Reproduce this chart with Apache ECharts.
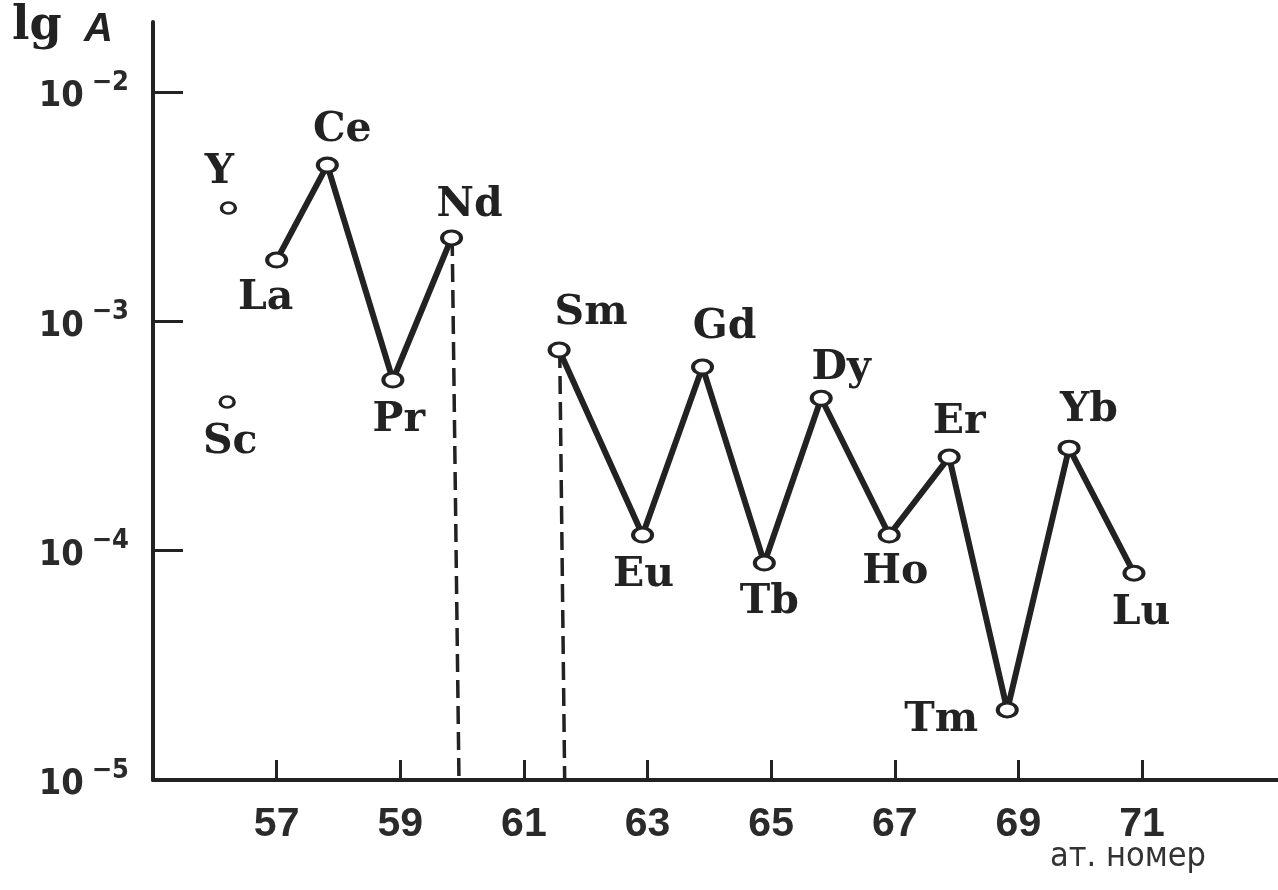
<!DOCTYPE html>
<html>
<head>
<meta charset="utf-8">
<script src="https://cdn.jsdelivr.net/npm/echarts@6/dist/echarts.min.js"></script>
<style>
html,body{margin:0;padding:0;background:#fff;}
#chart{width:1278px;height:890px;}
</style>
</head>
<body>
<div id="chart"></div>
<script>
// ---- data ----
var groupA_names = ['La', 'Ce', 'Pr', 'Nd'];
var groupA_x = [57.0, 57.82, 58.88, 59.83];
var groupA_y = [1.85e-3, 4.8e-3, 5.55e-4, 2.31e-3];

var groupB_names = ['Sm', 'Eu', 'Gd', 'Tb', 'Dy', 'Ho', 'Er', 'Tm', 'Yb', 'Lu'];
var groupB_x = [61.57, 62.92, 63.89, 64.89, 65.81, 66.91, 67.88, 68.82, 69.82, 70.87];
var groupB_y = [7.5e-4, 1.17e-4, 6.32e-4, 8.83e-5, 4.62e-4, 1.17e-4, 2.56e-4, 2.02e-5, 2.8e-4, 7.98e-5];

var single_names = ['Y', 'Sc'];
var single_x = [56.22, 56.2];
var single_y = [3.12e-3, 4.45e-4];

var dropNd = [[59.84, 2.31e-3], [59.95, 1e-5]];
var dropSm = [[61.58, 7.5e-4], [61.66, 1e-5]];

var xTicks = [57, 59, 61, 63, 65, 67, 69, 71];
var yAxisTitle = 'lg';
var yAxisTitleItalic = 'A';
var xAxisTitle = 'ат. номер';

// ---- label placement (style only) ----
var labelOffset = {
  Y: [-9, -36], Sc: [3, 40], La: [-11, 38], Ce: [15, -35], Pr: [6, 40], Nd: [18, -33],
  Sm: [32, -37], Gd: [22, -40], Eu: [1, 40], Tb: [5, 39], Dy: [20, -30], Ho: [6, 37],
  Er: [10, -35], Tm: [-66, 10], Yb: [20, -38], Lu: [7, 40]
};

var ink = '#222';
var labelFont = {fontFamily: "'DejaVu Serif', serif", fontWeight: 'bold', fontSize: 41, color: ink, opacity: 1};

function build(names, xs, ys) {
  return names.map(function (n, i) {
    return {
      name: n,
      value: [xs[i], ys[i]],
      label: Object.assign({show: true, position: 'inside', formatter: n, offset: labelOffset[n]}, labelFont)
    };
  });
}

var tickFont = "'Liberation Sans Narrow', 'DejaVu Sans Condensed', 'Liberation Sans', sans-serif";
var chart = echarts.init(document.getElementById('chart'));
chart.setOption({
  backgroundColor: '#fff',
  animation: false,
  grid: {left: 153, right: 0, top: 22, bottom: 110, containLabel: false},
  xAxis: {
    type: 'value', min: 55, max: 73.2,
    axisLine: {show: true, onZero: false, lineStyle: {color: ink, width: 4}},
    axisTick: {show: true, inside: true, length: 20, customValues: xTicks, lineStyle: {color: ink, width: 3}},
    axisLabel: {show: true, customValues: xTicks, margin: 24, fontFamily: "'Liberation Sans', Arial, sans-serif",
      fontWeight: 'bold', fontSize: 41, color: '#2a2a2a'},
    splitLine: {show: false}
  },
  yAxis: {
    type: 'log', logBase: 10, min: 1e-5, max: 0.0202, interval: 1,
    axisLine: {show: true, onZero: false, lineStyle: {color: ink, width: 4}},
    axisTick: {show: true, inside: true, length: 30, lineStyle: {color: ink, width: 3}},
    splitLine: {show: false},
    axisLabel: {
      show: true, margin: 24,
      showMaxLabel: false,
      formatter: function (v) {
        var e = Math.round(Math.log10(v));
        if (e > -2) return '';
        return '{b|10}{s|' + '−' + Math.abs(e) + '}';
      },
      rich: {
        b: {fontFamily: tickFont, fontWeight: 'bold', fontSize: 36, color: '#2a2a2a', verticalAlign: 'bottom', lineHeight: 46},
        s: {fontFamily: tickFont, fontWeight: 'bold', fontSize: 27, color: '#2a2a2a', verticalAlign: 'top', lineHeight: 46, padding: [0, 0, 0, 8]}
      }
    }
  },
  graphic: [
    {type: 'text', left: 12, top: 4, style: {text: yAxisTitle, font: "bold 46px 'DejaVu Serif', serif", fill: ink}},
    {type: 'text', left: 84, top: 10, style: {text: yAxisTitleItalic, font: "italic bold 40px 'Liberation Sans', Arial, sans-serif", fill: ink}},
    {type: 'text', left: 1050, top: 840, style: {text: xAxisTitle, font: "34px 'Liberation Sans Narrow', 'DejaVu Sans Condensed', 'Liberation Sans', sans-serif", fill: '#333'}}
  ],
  series: [
    {type: 'line', data: dropNd, symbol: 'none', z: 1, lineStyle: {color: ink, width: 3.5, type: [18, 8]}, silent: true},
    {type: 'line', data: dropSm, symbol: 'none', z: 1, lineStyle: {color: ink, width: 3.5, type: [18, 8]}, silent: true},
    {type: 'line', data: build(groupA_names, groupA_x, groupA_y), z: 3,
      symbol: 'circle', symbolSize: [19, 14], showAllSymbol: true,
      lineStyle: {color: ink, width: 6}, itemStyle: {color: '#fff', borderColor: ink, borderWidth: 3.5}},
    {type: 'line', data: build(groupB_names, groupB_x, groupB_y), z: 3,
      symbol: 'circle', symbolSize: [19, 14], showAllSymbol: true,
      lineStyle: {color: ink, width: 6}, itemStyle: {color: '#fff', borderColor: ink, borderWidth: 3.5}},
    {type: 'scatter', data: build(single_names, single_x, single_y), z: 3,
      symbol: 'circle', symbolSize: [14, 11],
      itemStyle: {color: '#fff', borderColor: ink, borderWidth: 3, opacity: 1}}
  ]
});
</script>
</body>
</html>
